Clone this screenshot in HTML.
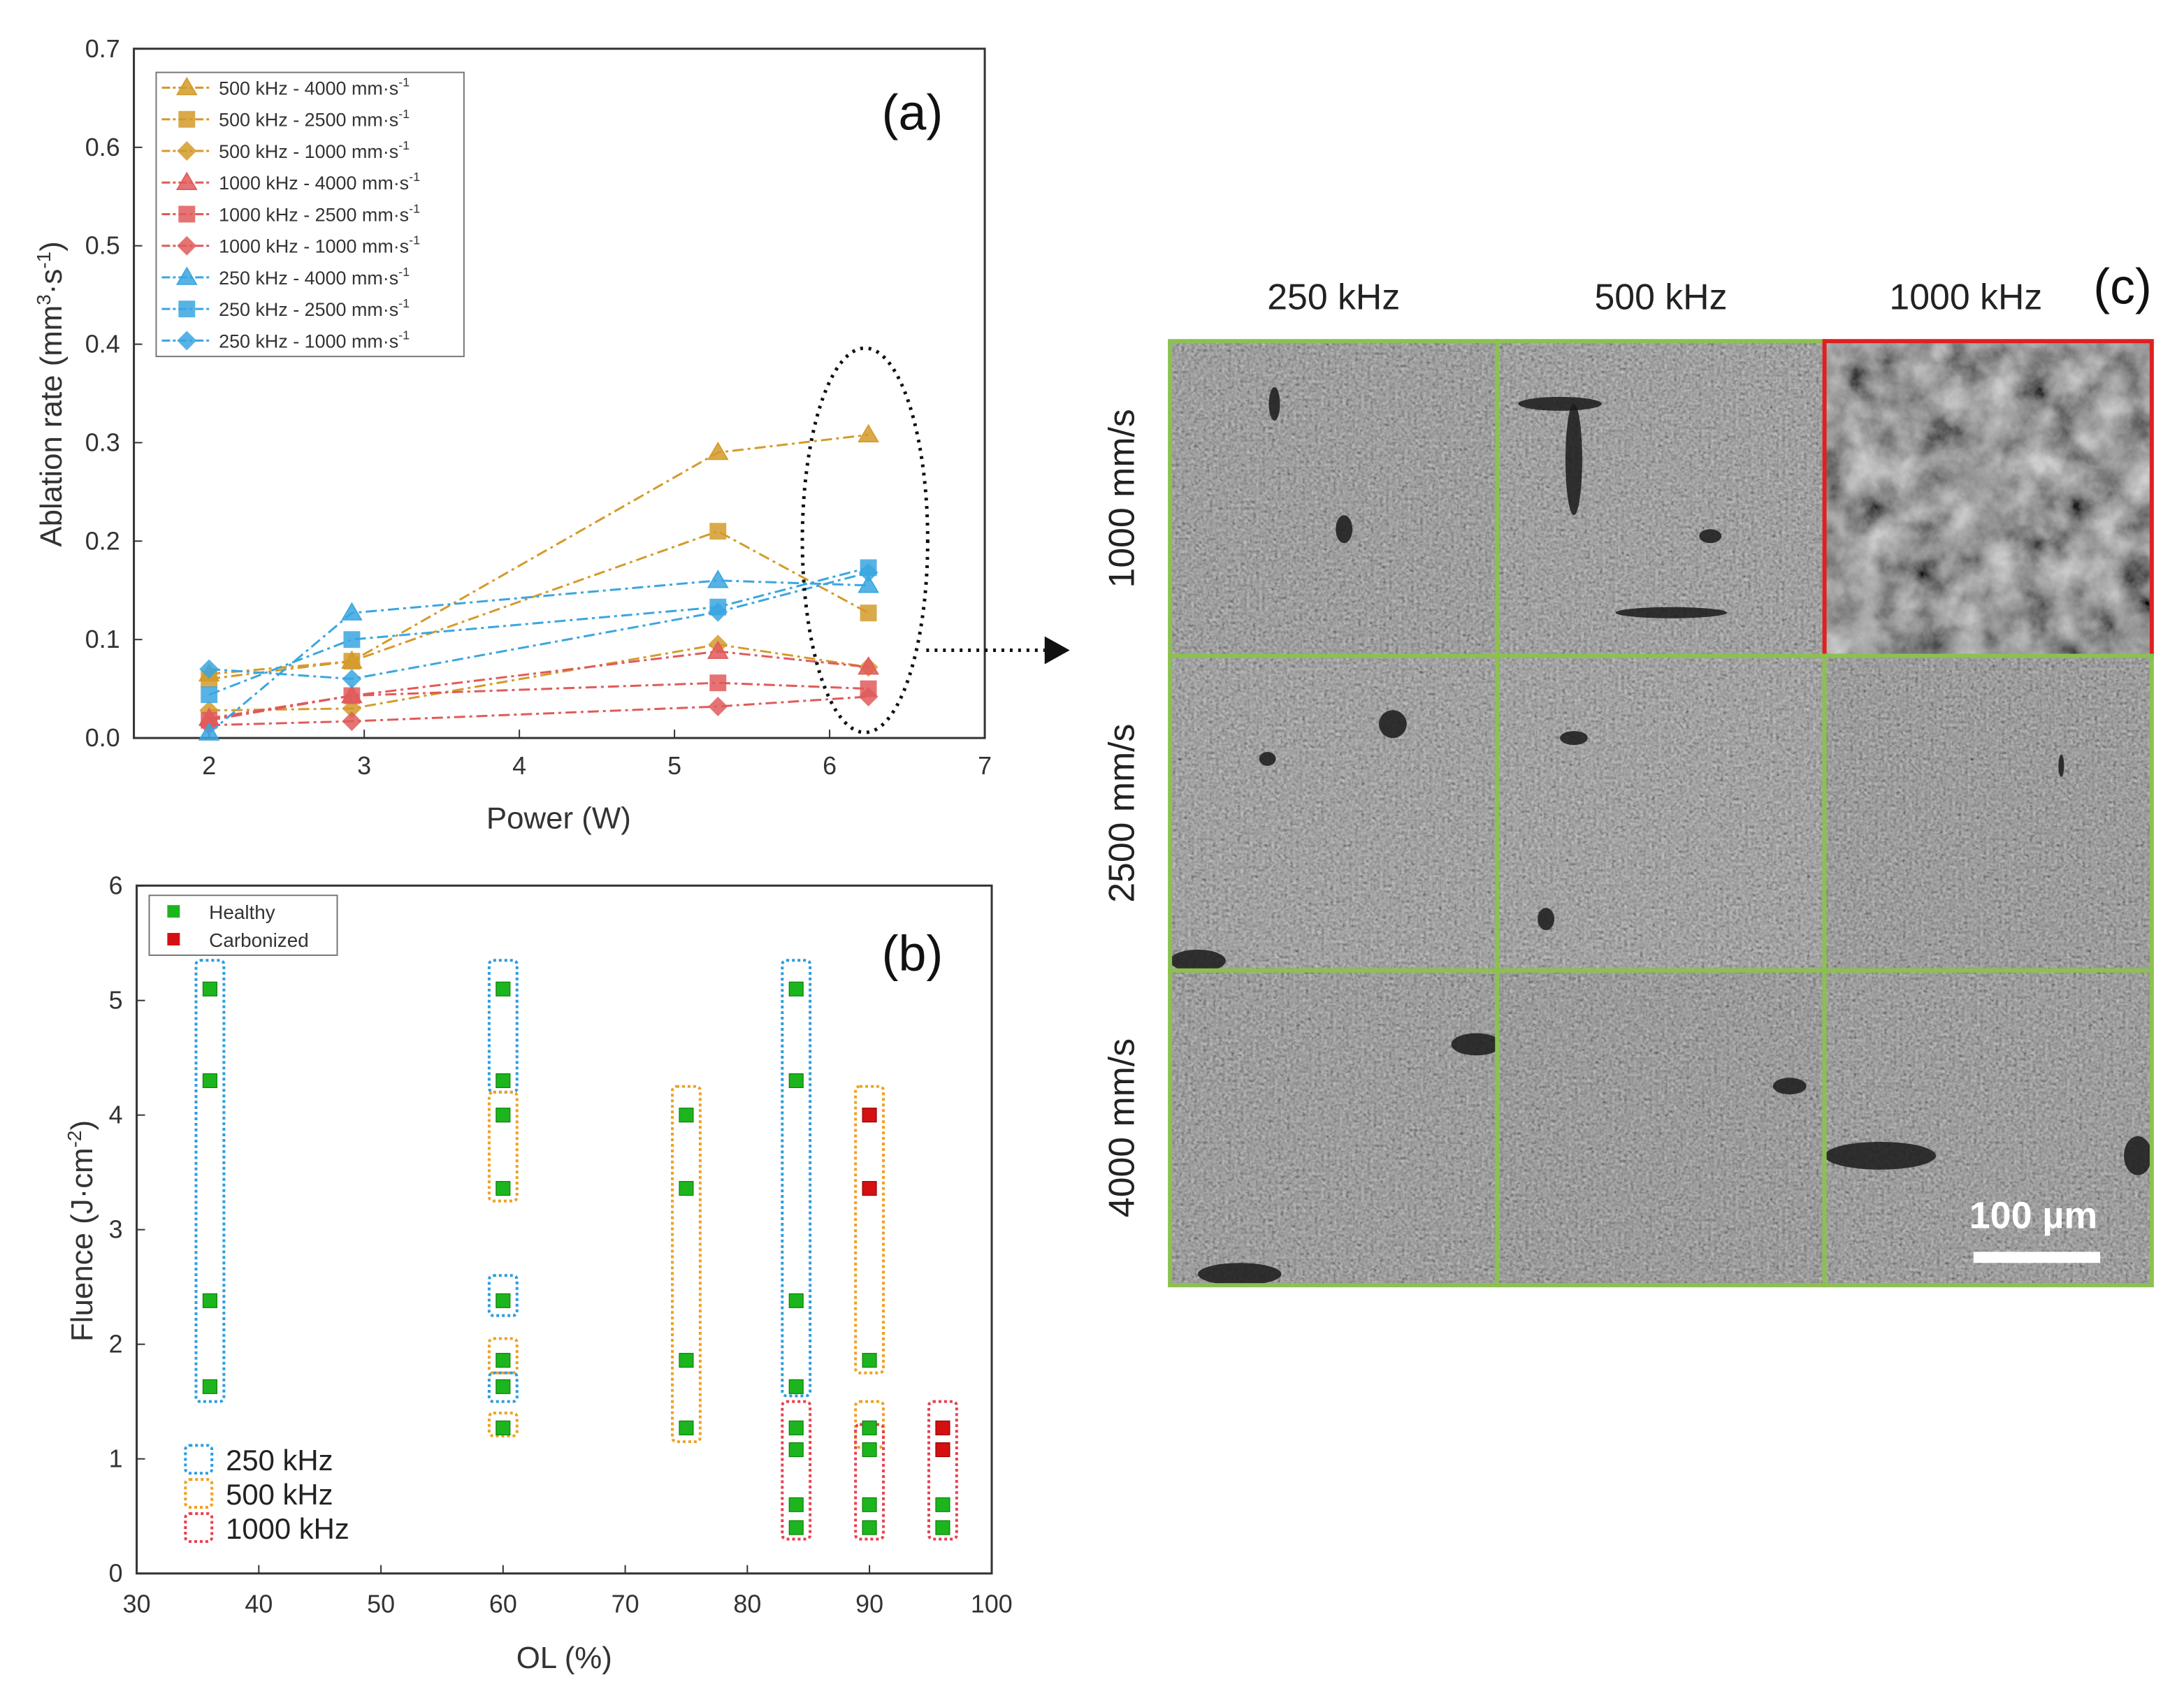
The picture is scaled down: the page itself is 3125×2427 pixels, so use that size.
<!DOCTYPE html>
<html><head><meta charset="utf-8"><style>
html,body{margin:0;padding:0;background:#fff}
svg{display:block;font-family:"Liberation Sans",sans-serif}
</style></head><body>
<svg id="fig" width="3125" height="2427" viewBox="0 0 1568 1218" xmlns="http://www.w3.org/2000/svg">
<defs>
<filter id="sem" x="0" y="0" width="100%" height="100%">
<feTurbulence type="fractalNoise" baseFrequency="0.45" numOctaves="2" seed="3" result="n"/>
<feColorMatrix type="matrix" values="0.33 0.33 0.33 0 0 0.33 0.33 0.33 0 0 0.33 0.33 0.33 0 0 0 0 0 0 1" in="n" result="g"/>
<feComponentTransfer in="g"><feFuncR type="linear" slope="1.6" intercept="-0.3"/><feFuncG type="linear" slope="1.6" intercept="-0.3"/><feFuncB type="linear" slope="1.6" intercept="-0.3"/></feComponentTransfer>
</filter>
<filter id="sem2" x="0" y="0" width="100%" height="100%">
<feTurbulence type="fractalNoise" baseFrequency="0.04" numOctaves="5" seed="8" result="n"/>
<feColorMatrix type="matrix" values="0.6 0.6 0 0 -0.25 0.6 0.6 0 0 -0.25 0.6 0.6 0 0 -0.25 0 0 0 0 1"/>
</filter>
</defs>
<g id="pa"></g>
<g id="pb"></g>
<g id="pc"></g>
</svg>
<script>
const NS="http://www.w3.org/2000/svg";
function mk(parent,tag,attrs,text){const e=document.createElementNS(NS,tag);for(const k in attrs)e.setAttribute(k,attrs[k]);if(text!==undefined)e.textContent=text;parent.appendChild(e);return e;}

// ---------- Panel (a) data ----------
const powerX=[2,2.92,5.28,6.25];
const seriesNames=["500 kHz - 4000 mm·s","500 kHz - 2500 mm·s","500 kHz - 1000 mm·s","1000 kHz - 4000 mm·s","1000 kHz - 2500 mm·s","1000 kHz - 1000 mm·s","250 kHz - 4000 mm·s","250 kHz - 2500 mm·s","250 kHz - 1000 mm·s"];
const s500_4000=[0.065,0.078,0.290,0.308];
const s500_2500=[0.060,0.078,0.210,0.127];
const s500_1000=[0.028,0.030,0.095,0.072];
const s1000_4000=[0.020,0.043,0.088,0.072];
const s1000_2500=[0.018,0.043,0.056,0.050];
const s1000_1000=[0.013,0.017,0.032,0.042];
const s250_4000=[0.005,0.127,0.160,0.155];
const s250_2500=[0.044,0.100,0.133,0.173];
const s250_1000=[0.070,0.060,0.128,0.168];
const aXTicks=[2,3,4,5,6,7];
const aYTicks=[0,0.1,0.2,0.3,0.4,0.5,0.6,0.7];

const pa=document.getElementById('pa');
const ax=v=>150+(v-2)*111.4, ay=v=>530-v*707;
let e;
e=mk(pa,'rect',{x:96,y:35,width:611,height:495,fill:'none',stroke:'#333','stroke-width':1.5});

aXTicks.forEach(t=>{e=mk(pa,'line',{x1:ax(t),x2:ax(t),y1:530,y2:524,stroke:'#333'});
 e=mk(pa,'text',{x:ax(t),y:556,'font-size':18,'text-anchor':'middle',fill:'#333'},t);});
aYTicks.forEach(t=>{e=mk(pa,'line',{x1:96,x2:102,y1:ay(t),y2:ay(t),stroke:'#333'});
 e=mk(pa,'text',{x:86,y:ay(t)+6,'font-size':18,'text-anchor':'end',fill:'#333'},t.toFixed(1));});
e=mk(pa,'text',{x:401,y:595,'font-size':22,'text-anchor':'middle',fill:'#333'},'Power (W)');
e=mk(pa,'text',{x:0,y:0,'font-size':22,'text-anchor':'middle',fill:'#333',transform:'translate(44,283) rotate(-90)'});
e.innerHTML='Ablation rate (mm<tspan dy="-8" font-size="14">3</tspan><tspan dy="8">·s</tspan><tspan dy="-8" font-size="14">-1</tspan><tspan dy="8">)</tspan>';

e=mk(pa,'text',{x:655,y:93,'font-size':36,'text-anchor':'middle',fill:'#111'},'(a)');

const allSeries=[s500_4000,s500_2500,s500_1000,s1000_4000,s1000_2500,s1000_1000,s250_4000,s250_2500,s250_1000];
const cols=['#d49a2a','#d49a2a','#d49a2a','#e05a5a','#e05a5a','#e05a5a','#3aa6e0','#3aa6e0','#3aa6e0'];
const shapes=['tri','sq','dia','tri','sq','dia','tri','sq','dia'];
function marker(g,shape,x,y,c){
 if(shape==='tri')return mk(g,'polygon',{points:`${x},${y-7} ${x-7},${y+5} ${x+7},${y+5}`,fill:c,stroke:c,'stroke-width':0.8,'fill-opacity':0.85});
 if(shape==='sq')return mk(g,'rect',{x:x-6,y:y-6,width:12,height:12,fill:c,'fill-opacity':0.85});
 return mk(g,'polygon',{points:`${x},${y-7} ${x+7},${y} ${x},${y+7} ${x-7},${y}`,fill:c,'fill-opacity':0.85});
}
allSeries.forEach((s,i)=>{
 const g=mk(pa,'g',{});
 
 e=mk(g,'polyline',{points:s.map((v,j)=>ax(powerX[j])+','+ay(v)).join(' '),fill:'none',stroke:cols[i],'stroke-width':1.5,'stroke-dasharray':'8 3 2 3'});
 
 s.forEach((v,j)=>{e=marker(g,shapes[i],ax(powerX[j]),ay(v),cols[i]);});
});
const lg=mk(pa,'g',{});
e=mk(lg,'rect',{x:112,y:52,width:221,height:204,fill:'#fff',stroke:'#777'});
seriesNames.forEach((n,i)=>{const y=63+i*22.7;
 e=mk(lg,'line',{x1:116,x2:152,y1:y,y2:y,stroke:cols[i],'stroke-width':1.5,'stroke-dasharray':'6 2 2 2'});
 e=marker(lg,shapes[i],134,y,cols[i]);
 e=mk(lg,'text',{x:157,y:y+5,'font-size':13.5,fill:'#333'});e.innerHTML=n+'<tspan dy="-6" font-size="9">-1</tspan>';
 });
e=mk(pa,'ellipse',{cx:621,cy:388,rx:45,ry:138,fill:'none',stroke:'#111','stroke-width':2.5,'stroke-dasharray':'2 4'});

e=mk(pa,'line',{x1:665,x2:750,y1:467,y2:467,stroke:'#111','stroke-width':2.5,'stroke-dasharray':'2 4'});
e=mk(pa,'polygon',{points:'750,457 768,467 750,477',fill:'#111'});

// ---------- Panel (b) data ----------
const olCats=[36,60,75,84,90,96];
const fluenceHealthy36=[5.1,4.3,2.38,1.63];
const fluenceHealthy60=[5.1,4.3,4.0,3.36,2.38,1.86,1.63,1.27];
const fluenceHealthy75=[4.0,3.36,1.86,1.27];
const fluenceHealthy84=[5.1,4.3,2.38,1.63,1.27,1.08,0.6,0.4];
const fluenceHealthy90=[1.86,1.27,1.08,0.6,0.4];
const fluenceHealthy96=[0.6,0.4];
const fluenceCarb90=[4.0,3.36];
const fluenceCarb96=[1.27,1.08];
const groupOL=[36,60,60,60,60,60,60,75,84,84,90,90,90,96];
const groupLo=[1.5,4.2,3.25,2.25,1.75,1.5,1.2,1.15,1.55,0.3,1.75,1.1,0.3,0.3];
const groupHi=[5.35,5.35,4.2,2.6,2.05,1.75,1.4,4.25,5.35,1.5,4.25,1.5,1.3,1.5];
const groupFreq=['250','250','500','250','500','250','500','500','250','1000','500','500','1000','1000'];
const bXTicks=[30,40,50,60,70,80,90,100];
const bYTicks=[0,1,2,3,4,5,6];

const pb=document.getElementById('pb');
const bx=v=>98+(v-30)*8.77, by=v=>1130-v*82.3;
const fcol={'250':'#2a9de0','500':'#f0a020','1000':'#e84050'};
e=mk(pb,'rect',{x:98,y:636,width:614,height:494,fill:'none',stroke:'#333','stroke-width':1.5});
bXTicks.forEach(t=>{e=mk(pb,'line',{x1:bx(t),x2:bx(t),y1:1130,y2:1124,stroke:'#333'});
 e=mk(pb,'text',{x:bx(t),y:1158,'font-size':18,'text-anchor':'middle',fill:'#333'},t);});
bYTicks.forEach(t=>{e=mk(pb,'line',{x1:98,x2:104,y1:by(t),y2:by(t),stroke:'#333'});
 e=mk(pb,'text',{x:88,y:by(t)+6,'font-size':18,'text-anchor':'end',fill:'#333'},t);});
e=mk(pb,'text',{x:405,y:1198,'font-size':22,'text-anchor':'middle',fill:'#333'},'OL (%)');
e=mk(pb,'text',{x:0,y:0,'font-size':22,'text-anchor':'middle',fill:'#333',transform:'translate(66,884) rotate(-90)'});
e.innerHTML='Fluence (J·cm<tspan dy="-8" font-size="14">-2</tspan><tspan dy="8">)</tspan>';
e=mk(pb,'text',{x:655,y:697,'font-size':36,'text-anchor':'middle',fill:'#111'},'(b)');
groupOL.forEach((o,i)=>{e=mk(pb,'rect',{x:bx(o)-10,y:by(groupHi[i]),width:20,height:by(groupLo[i])-by(groupHi[i]),rx:3,fill:'none',stroke:fcol[groupFreq[i]],'stroke-width':2,'stroke-dasharray':'2 2'});
 });
const healthy=[fluenceHealthy36,fluenceHealthy60,fluenceHealthy75,fluenceHealthy84,fluenceHealthy90,fluenceHealthy96];
healthy.forEach((arr,i)=>arr.forEach(v=>{e=mk(pb,'rect',{x:bx(olCats[i])-5,y:by(v)-5,width:10,height:10,fill:'#1db51d',stroke:'#0a800a','stroke-width':0.6});
 }));
[[90,fluenceCarb90],[96,fluenceCarb96]].forEach(([o,arr])=>arr.forEach(v=>{e=mk(pb,'rect',{x:bx(o)-5,y:by(v)-5,width:10,height:10,fill:'#d41010',stroke:'#900','stroke-width':0.6});
 }));
const lb=mk(pb,'g',{});
e=mk(lb,'rect',{x:107,y:643,width:135,height:43,fill:'#fff',stroke:'#777'});
e=mk(lb,'rect',{x:120,y:650,width:9,height:9,fill:'#1db51d'});
e=mk(lb,'text',{x:150,y:660,'font-size':14,fill:'#333'},'Healthy');
e=mk(lb,'rect',{x:120,y:670,width:9,height:9,fill:'#d41010'});
e=mk(lb,'text',{x:150,y:680,'font-size':14,fill:'#333'},'Carbonized');
['250','500','1000'].forEach((f,i)=>{const y=1048+i*24.5;
 e=mk(pb,'rect',{x:133,y:y-10,width:19,height:20,rx:3,fill:'none',stroke:fcol[f],'stroke-width':2,'stroke-dasharray':'2 2'});
 e=mk(pb,'text',{x:162,y:y+8,'font-size':21,fill:'#222'},f+' kHz');});

// ---------- Panel (c) ----------
const pc=document.getElementById('pc');
const colX=[840,1075,1310], rowY=[245,471,697], cw=235, ch=226;
const colLabels=['250 kHz','500 kHz','1000 kHz'];
const rowLabels=['1000 mm/s','2500 mm/s','4000 mm/s'];
const tones=[['#747474','#7a7a7a','#3a3a3a'],['#7c7c7c','#7e7e7e','#707070'],['#727272','#6e6e6e','#727272']];
colLabels.forEach((l,i)=>{e=mk(pc,'text',{x:colX[i]+cw/2+(i==2?-16:0),y:222,'font-size':26,'text-anchor':'middle',fill:'#222'},l);});
e=mk(pc,'text',{x:1524,y:218,'font-size':36,'text-anchor':'middle',fill:'#111'},'(c)');
rowLabels.forEach((l,i)=>{e=mk(pc,'text',{x:0,y:0,'font-size':26,'text-anchor':'middle',fill:'#222',transform:`translate(814,${rowY[i]+ch/2}) rotate(-90)`},l);});
const blobs=[[[915,290,4,12],[965,380,6,10]],[[1130,330,6,40],[1228,385,8,5],[1200,440,40,4],[1120,290,30,5]],[],[[1000,520,10,10],[910,545,6,5],[860,690,20,8]],[[1130,530,10,5],[1110,660,6,8]],[[1480,550,2,8]],[[1060,750,18,8],[890,915,30,8]],[[1285,780,12,6]],[[1350,830,40,10],[1535,830,10,14]]];
for(let r=0;r<3;r++)for(let c=0;c<3;c++){
 const g=mk(pc,'g',{});
 e=mk(g,'rect',{x:colX[c],y:rowY[r],width:cw,height:ch,fill:tones[r][c]});
 e=mk(g,'rect',{x:colX[c],y:rowY[r],width:cw,height:ch,fill:'#888',filter:(r==0&&c==2)?'url(#sem2)':'url(#sem)',opacity:(r==0&&c==2)?0.95:0.6});
 blobs[r*3+c].forEach(b=>{e=mk(g,'ellipse',{cx:b[0],cy:b[1],rx:b[2],ry:b[3],fill:'#1a1a1a',opacity:0.85});});
 e=mk(g,'rect',{x:colX[c],y:rowY[r],width:cw,height:ch,fill:'none',stroke:(r==0&&c==2)?'#e02020':'#8cc050','stroke-width':3});
}
e=mk(pc,'text',{x:1460,y:882,'font-size':27,'font-weight':'bold','text-anchor':'middle',fill:'#fff'},'100 µm');
e=mk(pc,'rect',{x:1417,y:899,width:91,height:8,fill:'#fff'});
</script>
</body></html>
